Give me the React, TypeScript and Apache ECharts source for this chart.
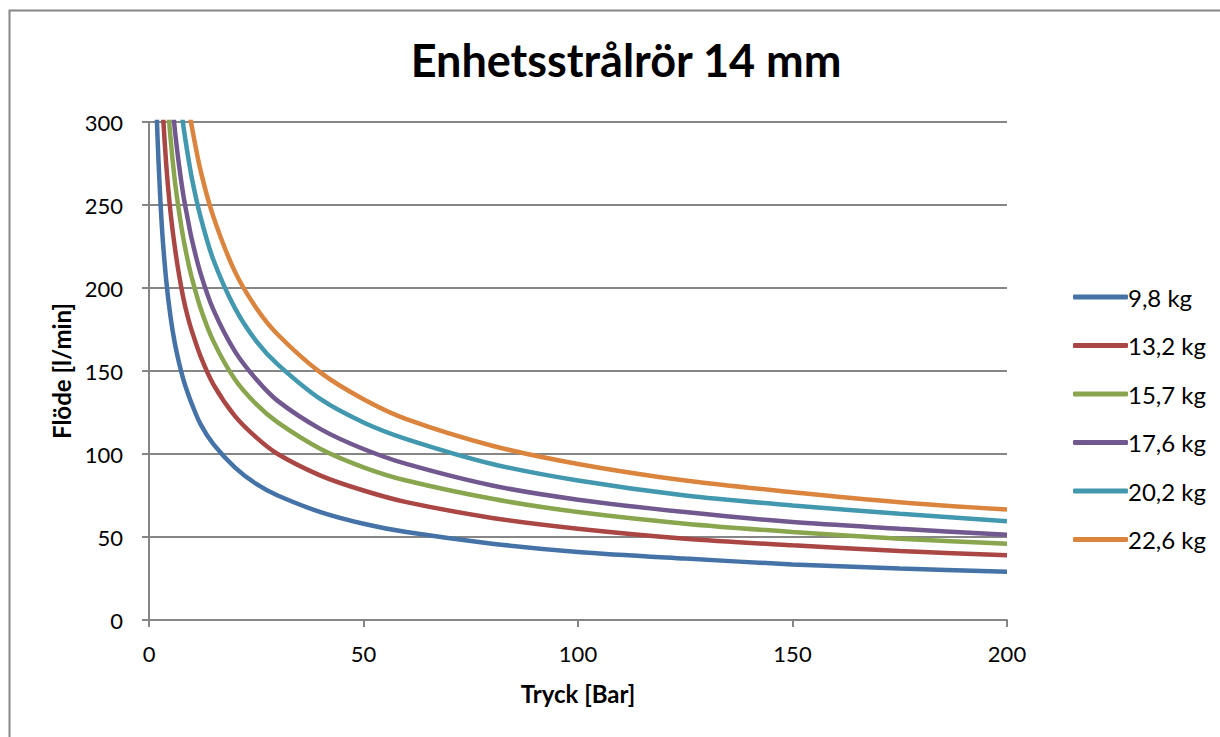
import React, { useEffect, useRef } from "react";
import * as echarts from "echarts";

const pressure = [1.5, 2, 3, 4, 5, 6, 7, 8, 9, 10, 12, 15, 20, 25, 30, 40, 50, 60, 80, 100, 125, 150, 175, 200];

const seriesNames = ["9,8 kg", "13,2 kg", "15,7 kg", "17,6 kg", "20,2 kg", "22,6 kg"];

const flow98 = [335, 290, 237, 205, 183, 167, 155, 145, 137, 130, 118, 106, 92, 82, 75, 65, 58, 53, 46, 41, 37, 33.5, 31, 29];
const flow132 = [449, 389, 318, 275, 246, 225, 208, 194, 183, 174, 159, 142, 123, 110, 100, 87, 78, 71, 61.5, 55, 49, 45, 41.6, 39];
const flow157 = [531, 460, 375, 325, 291, 265, 246, 230, 217, 206, 188, 168, 145, 130, 119, 103, 92, 84, 73, 65, 58, 53, 49, 46];
const flow176 = [592, 513, 419, 362, 324, 296, 274, 256, 242, 229, 209, 187, 162, 145, 132, 115, 103, 94, 81, 72.5, 65, 59, 55, 51.3];
const flow202 = [687, 595, 486, 421, 377, 344, 318, 298, 281, 266, 243, 217, 188, 168, 154, 133, 119, 109, 94, 84, 75, 69, 64, 59.5];
const flow226 = [768, 665, 543, 470, 420, 384, 355, 332, 313, 297, 271, 243, 210, 188, 172, 149, 133, 121, 105, 94, 84, 77, 71, 66.5];

const allFlows = [flow98, flow132, flow157, flow176, flow202, flow226];
const colors = ["#4572A7", "#AA4643", "#89A54E", "#71588F", "#4198AF", "#DB843D"];

const FONT = "Lato";

export default function App() {
  const ref = useRef<HTMLDivElement>(null);
  useEffect(() => {
    if (!ref.current) return;
    const chart = echarts.init(ref.current, null, { renderer: "svg" });
    chart.setOption({
      animation: false,
      backgroundColor: "#ffffff",
      color: colors,
      title: {
        text: "Enhetsstrålrör 14 mm",
        left: 621,
        top: 32,
        textAlign: "center",
        textStyle: { fontFamily: FONT, fontWeight: "bold", fontSize: 45, color: "#000" },
      },
      graphic: [
        {
          type: "rect",
          shape: { x: 9.5, y: 10.5, width: 1230, height: 740 },
          style: { fill: "none", stroke: "#868686", lineWidth: 2 },
          silent: true,
        },
      ],
      legend: {
        orient: "vertical",
        left: 1068,
        top: 280,
        itemWidth: 55,
        itemHeight: 5,
        itemGap: 24.5,
        icon: "roundRect",
        textStyle: { fontFamily: FONT, fontSize: 24, color: "#000", padding: [0, 0, 0, -5] },
        data: seriesNames,
      },
      grid: { left: 149, right: 213, top: 122, bottom: 117 },
      xAxis: {
        type: "value",
        min: 0,
        max: 200,
        interval: 50,
        name: "Tryck [Bar]",
        nameLocation: "middle",
        nameGap: 61,
        nameTextStyle: { fontFamily: FONT, fontWeight: "bold", fontSize: 24, color: "#000" },
        axisLine: { lineStyle: { color: "#868686", width: 2 } },
        axisTick: { show: true, length: 7, lineStyle: { color: "#868686", width: 2 } },
        axisLabel: { fontFamily: FONT, fontSize: 22, color: "#000", margin: 22 },
        splitLine: { show: false },
      },
      yAxis: {
        type: "value",
        min: 0,
        max: 300,
        interval: 50,
        name: "Flöde [l/min]",
        nameLocation: "middle",
        nameGap: 74,
        nameRotate: 90,
        nameTextStyle: { fontFamily: FONT, fontWeight: "bold", fontSize: 24, color: "#000" },
        axisLine: { show: true, lineStyle: { color: "#868686", width: 2 } },
        axisTick: { show: true, length: 7, lineStyle: { color: "#868686", width: 2 } },
        axisLabel: { fontFamily: FONT, fontSize: 22, color: "#000", margin: 26 },
        splitLine: { show: true, lineStyle: { color: "#868686", width: 2 } },
      },
      series: allFlows.map((vals, i) => ({
        name: seriesNames[i],
        type: "line",
        data: pressure.map((p, j) => [p, vals[j]]),
        showSymbol: false,
        symbol: "none",
        smooth: 0.3,
        clip: true,
        lineStyle: { width: 4.5, color: colors[i] },
        itemStyle: { color: colors[i] },
      })),
    });
    return () => chart.dispose();
  }, []);
  return (
    <div
      ref={ref}
      style={{ position: "absolute", left: 0, top: 0, width: 1220, height: 737 }}
    />
  );
}
